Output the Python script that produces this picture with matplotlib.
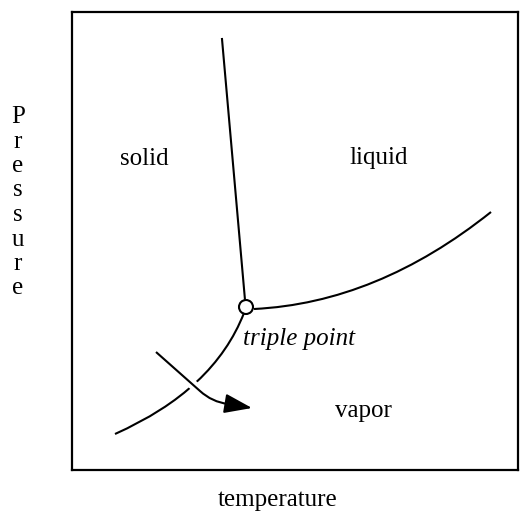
import numpy as np
import matplotlib.pyplot as plt
from matplotlib.path import Path
from matplotlib.patches import PathPatch

plt.rcParams['font.family'] = ['Liberation Serif', 'DejaVu Serif']

# curves (pixel coords, y down)
# each curve: start, bezier control, end
fusion = [(222, 39), (245, 300)]
vaporization = [(254, 309), (377, 303), (491, 212)]
sublimation = [(244, 313), (214, 390), (115, 434)]
arrow_shaft = [(156, 352), (200, 391), (212, 402), (228, 404)]
arrow_tip = (252, 408)

triple = (246, 307)

labels = ["solid", "liquid", "vapor"]
label_x = [144, 379, 363]
label_y = [165, 164, 417]

fig = plt.figure(figsize=(5.2, 5.24), dpi=100)
W, H = 520, 524
left, right, top, bottom = 72, 518, 12, 470
ax = fig.add_axes([left / W, 1 - bottom / H, (right - left) / W, (bottom - top) / H])
ax.set_xlim(left, right)
ax.set_ylim(bottom, top)
ax.set_xticks([])
ax.set_yticks([])
for s in ax.spines.values():
    s.set_linewidth(1.6)

lw = 1.5


def curve(pts, **kw):
    codes = [Path.MOVETO] + [Path.CURVE3] * (len(pts) - 1)
    ax.add_patch(PathPatch(Path(pts, codes), fill=False, **kw))


ax.plot(*zip(*fusion), color='black', lw=lw)
curve(vaporization, color='black', lw=lw)
curve(sublimation, color='black', lw=lw)

# arrow with white halo so it cuts the curve
shaft = Path(arrow_shaft, [Path.MOVETO, Path.LINETO, Path.CURVE3, Path.CURVE3])
ax.add_patch(PathPatch(shaft, fill=False, color='white', lw=7, capstyle='butt'))
ax.add_patch(PathPatch(shaft, fill=False, color='black', lw=lw))
ax.annotate('', xy=arrow_tip, xytext=arrow_shaft[-1],
            arrowprops=dict(arrowstyle='-|>,head_length=1.7,head_width=0.6',
                            mutation_scale=10, color='black', lw=lw,
                            shrinkA=0, shrinkB=0))

circ = plt.Circle(triple, 7, fill=False, color='black', lw=lw)
ax.add_patch(circ)

for t, x, y in zip(labels, label_x, label_y):
    ax.text(x, y, t, fontsize=18, ha='center', va='baseline')
ax.text(243, 345, "triple point", fontsize=18, style='italic', ha='left', va='baseline')

ax.text(278, 506, "temperature", fontsize=18, ha='center', va='baseline', clip_on=False)
for i, ch in enumerate("Pressure"):
    ax.text(18, 123 + i * 24.5, ch, fontsize=18, ha='center', va='baseline', clip_on=False)

fig.savefig('out.png', dpi=100)
